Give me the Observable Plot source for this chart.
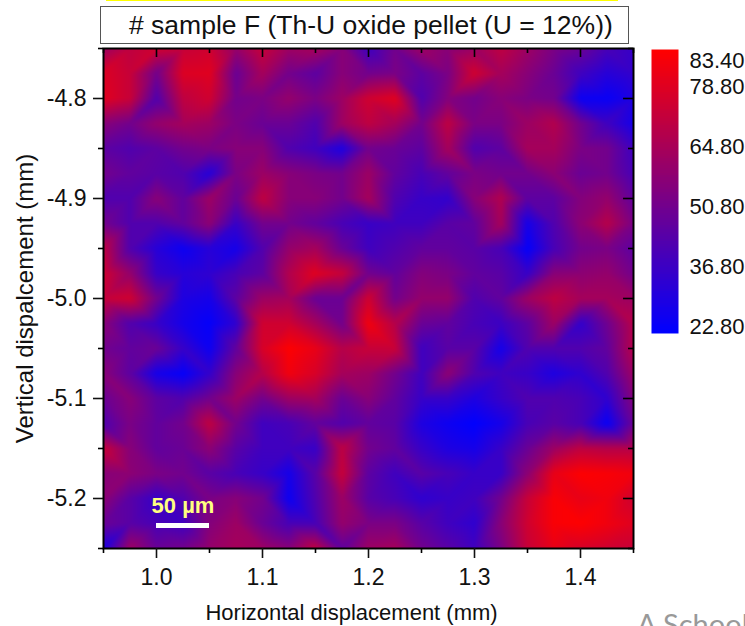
<!DOCTYPE html>
<html><head><meta charset="utf-8">
<script src="https://cdn.jsdelivr.net/npm/d3@7"></script>
<script src="https://cdn.jsdelivr.net/npm/@observablehq/plot@0.6"></script>
<style>
html,body{margin:0;padding:0;background:#fff;overflow:hidden;width:745px;height:626px}
#wrap{position:relative;width:745px;height:626px;overflow:hidden;font-family:"Liberation Sans",Arial,sans-serif}
#wrap svg{position:absolute;left:0;top:0;background:transparent}
#bar{position:absolute;left:106px;top:0;width:512px;height:1px;background:#ffff00}
#title{position:absolute;left:100px;top:6px;width:527px;height:36px;border:1px solid #555;background:#fff;box-sizing:content-box;font-size:26.5px;line-height:36px;color:#111;white-space:nowrap}
#title span{position:absolute;left:28px;top:0}
#note{position:absolute;left:637px;top:606px;font-family:"Lato",sans-serif;font-size:29px;color:#999;white-space:nowrap}
</style></head><body>
<div id="wrap"><div id="bar"></div><div id="title"><span># sample F (Th-U oxide pellet (U = 12%))</span></div><div id="note">A School</div></div>
<script>
const xStart = 0.95, xStep = 0.025, yStart = -4.75, yStep = -0.025;
const zMin = 22.8, zMax = 83.4;
const row00 = [60,68,72,70,72,58,70,60,62,55,38,50,60,55,60,68,60,52,48,40,36];
const row01 = [75,70,50,75,76,48,62,50,45,55,50,52,45,52,72,62,55,48,38,32,35];
const row02 = [76,70,42,68,72,50,52,58,52,60,72,76,42,54,50,55,52,50,26,25,30];
const row03 = [55,50,58,62,60,52,48,48,42,60,68,62,50,68,52,52,60,65,50,38,28];
const row04 = [45,42,45,50,52,55,55,42,38,30,50,48,45,62,42,45,62,62,52,50,38];
const row05 = [50,46,44,42,32,52,60,55,52,50,60,46,40,46,52,50,50,56,48,50,40];
const row06 = [42,42,55,46,60,48,68,55,55,50,62,42,36,35,55,65,45,45,54,58,46];
const row07 = [50,42,42,46,56,36,50,50,46,40,36,38,38,44,46,62,28,42,56,66,52];
const row08 = [68,42,32,26,32,28,42,58,62,48,38,42,46,46,44,40,24,40,50,52,45];
const row09 = [72,58,36,32,34,40,45,65,76,70,50,46,54,52,46,44,36,55,56,58,50];
const row10 = [70,72,50,30,28,45,60,62,48,48,72,50,58,58,42,46,60,68,62,62,60];
const row11 = [55,42,36,28,24,34,72,72,62,50,80,66,48,46,40,37,45,60,35,49,66];
const row12 = [50,46,48,36,26,46,74,83,78,66,70,70,38,44,44,28,42,42,42,46,66];
const row13 = [55,45,28,24,35,55,66,80,74,62,60,50,38,56,42,38,36,30,34,42,60];
const row14 = [48,55,45,42,50,60,50,60,62,48,55,46,36,36,30,36,42,42,40,34,54];
const row15 = [42,52,46,50,68,50,38,40,46,42,46,44,30,26,23,28,40,44,40,25,48];
const row16 = [70,55,46,48,56,44,38,38,36,68,50,46,36,30,28,36,48,60,68,66,66];
const row17 = [55,56,52,50,44,40,36,28,44,70,45,38,44,40,36,36,56,78,83,82,80];
const row18 = [56,44,36,42,52,55,50,26,42,60,44,40,34,36,38,50,70,82,78,80,72];
const row19 = [48,44,40,38,54,60,48,40,40,58,52,52,44,38,34,55,72,82,83,80,76];
const row20 = [30,60,48,50,58,62,60,55,68,46,60,62,50,44,38,52,70,78,74,72,70];
const rows = [row00,row01,row02,row03,row04,row05,row06,row07,row08,row09,row10,row11,row12,row13,row14,row15,row16,row17,row18,row19,row20];
const xMajor = [1.0,1.1,1.2,1.3,1.4];
const xMinor = [0.95,1.05,1.15,1.25,1.35,1.45];
const yMajor = [-4.8,-4.9,-5.0,-5.1,-5.2];
const yMinor = [-4.75,-4.85,-4.95,-5.05,-5.15,-5.25];
const legendLabels = [22.8,36.8,50.8,64.8,78.8,83.4];
const cells = rows.flatMap((r,j)=>r.map((z,i)=>({x:xStart+i*xStep,y:yStart+j*yStep,z})));
const fmt1 = d=>d.toFixed(1);
const colorScale = {type:"linear",domain:[zMin,zMax],range:["rgb(0,0,255)","rgb(255,0,0)"],clamp:true};
const tick = {stroke:"#000",strokeWidth:1.6};
const chart = Plot.plot({
  width:745,height:626,marginLeft:103,marginRight:112,marginTop:48,marginBottom:78,
  style:{fontFamily:'"Liberation Sans",Arial,sans-serif',fontSize:"22px",color:"#111",background:"transparent"},
  x:{domain:[0.95,1.45],label:null},
  y:{domain:[-5.25,-4.75],label:null},
  color:colorScale,
  marks:[
    Plot.raster(cells,{x:"x",y:"y",fill:"z",interpolate:"barycentric",pixelSize:1,blur:1}),
    Plot.frame({stroke:"#000",strokeWidth:2}),
    Plot.axisX({anchor:"bottom",ticks:xMajor,tickSize:10,tickPadding:10,tickFormat:fmt1,strokeWidth:1.6,fontSize:23,label:null}),
    Plot.ruleX(xMinor,{y1:-5.25,y2:-5.255,...tick}),
    Plot.axisY({anchor:"left",ticks:yMajor,tickSize:10,tickPadding:7,tickFormat:fmt1,strokeWidth:1.6,fontSize:23,label:null}),
    Plot.ruleY(yMinor,{x1:0.95,x2:0.9453,...tick}),
    Plot.ruleX(xMajor,{y1:-4.75,y2:-4.759,...tick}),
    Plot.ruleX(xMinor,{y1:-4.75,y2:-4.755,...tick}),
    Plot.ruleY(yMajor,{x1:1.45,x2:1.4406,...tick}),
    Plot.ruleY(yMinor,{x1:1.45,x2:1.4453,...tick}),
    Plot.text(["Horizontal displacement (mm)"],{x:[1.184],y:[-5.314],fontSize:22,fill:"#111",textAnchor:"middle"}),
    Plot.text(["Vertical dispalcement (mm)"],{x:[0.8764],y:[-5.0],rotate:-90,fontSize:24,fill:"#111",textAnchor:"middle"}),
    Plot.ruleY([-5.227],{x1:1.0,x2:1.05,stroke:"#fff",strokeWidth:5}),
    Plot.text(["50 µm"],{x:[1.025],y:[-5.207],fontSize:22,fontWeight:"bold",fill:"#ffff80",textAnchor:"middle"})
  ]
});
// colour bar: y scale is that of the printed labels; the bar overshoots them as in the source
const barLo = 21.17, barHi = 87.43;
const barValues = d3.quantize(d3.interpolateNumber(zMax,zMin),120);
const legend = Plot.plot({
  width:745,height:626,marginLeft:651,marginRight:67,marginTop:0,marginBottom:0,
  style:{fontFamily:'"Liberation Sans",Arial,sans-serif',fontSize:"22px",color:"#111",background:"transparent"},
  x:{domain:[0,1],axis:null},
  y:{type:"linear",domain:[zMin,78.8],range:[326,86],axis:null},
  color:colorScale,
  marks:[
    Plot.raster(barValues,{width:1,height:120,x1:0,x2:1,y1:barHi,y2:barLo,imageRendering:"pixelated"}),
    Plot.text(legendLabels.slice(0,5),{x:()=>1,y:d=>d,dx:11,text:d=>d.toFixed(2),textAnchor:"start",fontSize:22,fill:"#111"}),
    Plot.text(legendLabels.slice(5),{x:()=>1,y:d=>d,dx:11,dy:-6,text:d=>d.toFixed(2),textAnchor:"start",fontSize:22,fill:"#111"})
  ]
});
document.getElementById("wrap").prepend(chart);
document.getElementById("wrap").append(legend);
</script>
</body></html>
